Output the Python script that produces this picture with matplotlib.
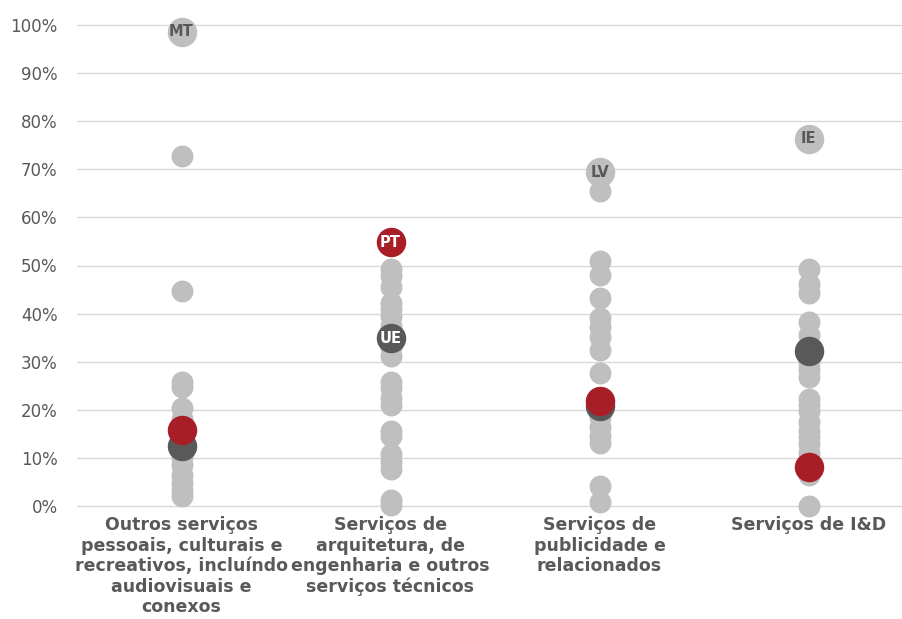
import matplotlib.pyplot as plt
from matplotlib.ticker import PercentFormatter

# Share (%) by service category, one dot per member state
categories = [
    "Outros serviços\npessoais, culturais e\nrecreativos, incluíndo\naudiovisuais e\nconexos",
    "Serviços de\narquitetura, de\nengenharia e outros\nserviços técnicos",
    "Serviços de\npublicidade e\nrelacionados",
    "Serviços de I&D",
]

others_1 = [72.8, 44.6, 25.8, 24.8, 20.4, 18.0, 14.5, 10.2, 8.5, 6.5, 4.8, 3.2, 2.0]
others_2 = [49.2, 47.8, 45.6, 42.3, 41.0, 39.5, 37.5, 33.0, 31.2, 25.8, 24.5, 22.5,
            21.0, 15.6, 14.6, 10.8, 9.2, 7.6, 1.2, 0.2]
others_3 = [65.5, 50.9, 48.0, 43.3, 39.0, 37.3, 35.2, 32.5, 27.6, 18.5, 16.5, 14.6,
            13.1, 4.2, 0.9]
others_4 = [49.2, 46.2, 44.3, 38.2, 35.5, 30.0, 28.5, 26.8, 22.3, 21.0, 19.8, 17.5,
            15.5, 14.4, 12.8, 11.0, 6.5, 0.0]
others = [others_1, others_2, others_3, others_4]

top_country = ["MT", None, "LV", "IE"]
top_value = [98.6, None, 69.4, 76.4]
pt_value = [15.9, 54.8, 21.8, 8.2]
ue_value = [12.4, 34.9, 20.8, 32.3]
show_pt_ue_labels = [False, True, False, False]

GREY = "#BFBFBF"
DARK = "#595959"
RED = "#A81E27"
TEXT = "#595959"

fig = plt.figure(figsize=(9.02, 6.19), dpi=100)
# plot area: 0% at y=506 px, 100% at y=25 px, padded by 1% on each side
px_per_pct = (506 - 25) / 100
y_bottom = 506 + px_per_pct
y_top = 25 - px_per_pct
ax = fig.add_axes([77 / 902, (619 - y_bottom) / 619, (913 - 77) / 902,
                   (y_bottom - y_top) / 619])

small = 250
big = 450

for i, vals in enumerate(others):
    ax.scatter([i] * len(vals), vals, s=small, color=GREY, linewidths=0,
               zorder=3, clip_on=False)
    if top_country[i] is not None:
        ax.scatter([i], [top_value[i]], s=big, color=GREY, linewidths=0,
                   zorder=3, clip_on=False)
        ax.text(i, top_value[i], top_country[i], ha="center", va="center",
                fontsize=10.5, fontweight="bold", color=TEXT, zorder=6)
    ax.scatter([i], [ue_value[i]], s=big, color=DARK, linewidths=0,
               zorder=4, clip_on=False)
    ax.scatter([i], [pt_value[i]], s=big, color=RED, linewidths=0,
               zorder=5, clip_on=False)
    if show_pt_ue_labels[i]:
        ax.text(i, ue_value[i], "UE", ha="center", va="center",
                fontsize=10.5, fontweight="bold", color="white", zorder=6)
        ax.text(i, pt_value[i], "PT", ha="center", va="center",
                fontsize=10.5, fontweight="bold", color="white", zorder=6)

ax.set_xlim(-0.5, 3.5)
ax.set_ylim(-1, 101)
ax.set_yticks(range(0, 101, 10))
ax.yaxis.set_major_formatter(PercentFormatter(100, decimals=0))
ax.set_xticks(range(len(categories)))
ax.set_xticklabels(categories, fontsize=12.5, fontweight="bold", color=TEXT,
                   linespacing=1.17, va="top")
ax.tick_params(axis="y", labelsize=12, labelcolor=TEXT, length=0, pad=14)
ax.tick_params(axis="x", length=0, pad=4)
ax.grid(axis="y", color="#D9D9D9", linewidth=1)
ax.set_axisbelow(True)
for sp in ax.spines.values():
    sp.set_visible(False)

fig.savefig("out.png", dpi=100)
